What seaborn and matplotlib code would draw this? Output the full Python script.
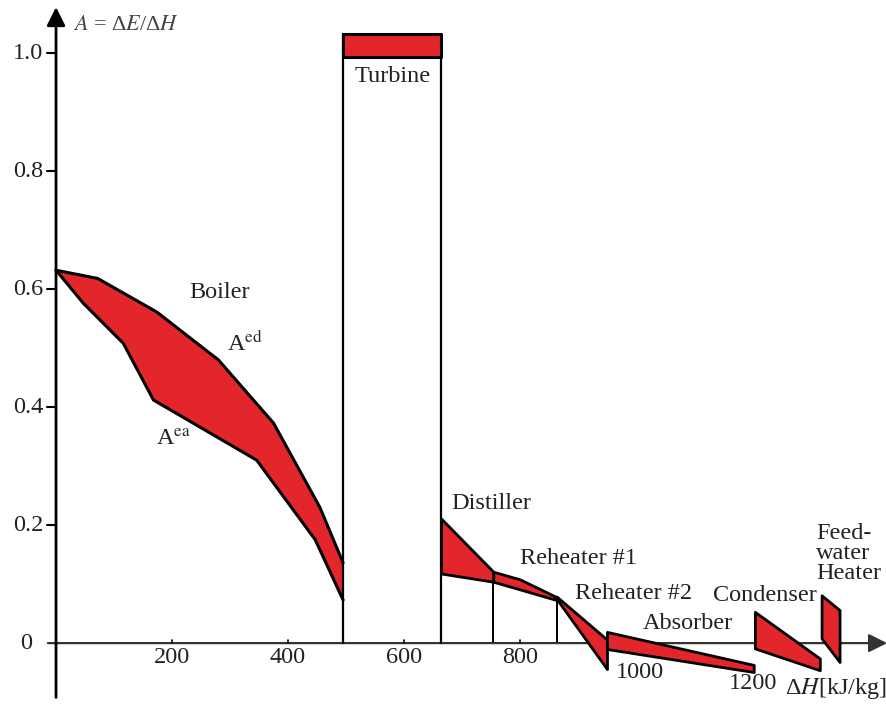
import matplotlib
matplotlib.use("Agg")
import matplotlib.pyplot as plt
import seaborn as sns
import numpy as np
import pandas as pd

sns.set_theme(style="white")
plt.rcParams['font.family'] = ['Liberation Serif', 'DejaVu Serif']
plt.rcParams['mathtext.fontset'] = 'stix'

# ---------------- data ----------------
boiler_x_ed = [0, 72, 174, 280, 375, 455, 495]
boiler_ed = [0.632, 0.618, 0.561, 0.480, 0.373, 0.230, 0.136]
boiler_x_ea = [0, 47, 116, 168, 346, 447, 495]
boiler_ea = [0.632, 0.576, 0.508, 0.412, 0.310, 0.175, 0.073]

turbine_x = [495, 664]
turbine_lower = [0.993, 0.993]
turbine_upper = [1.032, 1.032]

distiller_x = [664, 754]
distiller_upper = [0.211, 0.121]
distiller_lower = [0.118, 0.104]

reheater1_x = [754, 800, 863]
reheater1_upper = [0.121, 0.108, 0.078]
reheater1_lower = [0.104, 0.091, 0.073]

reheater2_x = [863, 950]
reheater2_upper = [0.079, 0.006]
reheater2_lower = [0.075, -0.044]

absorber_x = [950, 1203]
absorber_upper = [0.019, -0.037]
absorber_lower = [-0.010, -0.049]

condenser_x = [1205, 1317]
condenser_upper = [0.053, -0.026]
condenser_lower = [-0.009, -0.046]

feedwater_x = [1320, 1351]
feedwater_upper = [0.081, 0.056]
feedwater_lower = [0.008, -0.032]

separator_x = [754, 863]
separator_top = [0.104, 0.073]

y_ticks = [0.2, 0.4, 0.6, 0.8, 1.0]
y_tick_labels = ["0.2", "0.4", "0.6", "0.8", "1.0"]
x_ticks = [200, 400, 600, 800]
x_tick_labels = ["200", "400", "600", "800"]

RED = '#e2262b'
FS = 17.5

fig = plt.figure(figsize=(8.87, 7.08), dpi=100)
ax = fig.add_axes([0, 0, 1, 1])
ax.set_xlim(-96.6, 1432.8)
ax.set_ylim(-0.110, 1.090)
ax.axis('off')

# Boiler band
bx = np.array(boiler_x_ea)
ed_interp = np.interp(bx, boiler_x_ed, boiler_ed)
xs = sorted(set(boiler_x_ed) | set(boiler_x_ea))
up = np.interp(xs, boiler_x_ed, boiler_ed)
lo = np.interp(xs, boiler_x_ea, boiler_ea)
ax.fill_between(xs, lo, up, color=RED, lw=0, zorder=2)
df_ed = pd.DataFrame({'x': boiler_x_ed, 'y': boiler_ed})
df_ea = pd.DataFrame({'x': boiler_x_ea, 'y': boiler_ea})
sns.lineplot(data=df_ed, x='x', y='y', sort=False, color='black', lw=2.2, ax=ax, zorder=3)
sns.lineplot(data=df_ea, x='x', y='y', sort=False, color='black', lw=2.2, ax=ax, zorder=3)

# Turbine box
ax.plot([turbine_x[0], turbine_x[0]], [0, turbine_upper[0]], color='black', lw=1.6, zorder=3)
ax.plot([turbine_x[1], turbine_x[1]], [0, turbine_upper[1]], color='black', lw=1.6, zorder=3)
ax.fill_between(turbine_x, turbine_lower, turbine_upper, facecolor=RED,
                edgecolor='black', lw=2.2, zorder=3)

# Separators
for sx, st in zip(separator_x, separator_top):
    ax.plot([sx, sx], [0, st], color='black', lw=1.4, zorder=1)

# Components
for xx, uu, ll in [(distiller_x, distiller_upper, distiller_lower),
                   (reheater1_x, reheater1_upper, reheater1_lower),
                   (reheater2_x, reheater2_upper, reheater2_lower),
                   (absorber_x, absorber_upper, absorber_lower),
                   (condenser_x, condenser_upper, condenser_lower),
                   (feedwater_x, feedwater_upper, feedwater_lower)]:
    ax.fill_between(xx, ll, uu, facecolor=RED, edgecolor='black', lw=2.0, zorder=3)

# Axes with arrows
ax.annotate('', xy=(0, 1.078), xytext=(0, -0.092),
            arrowprops=dict(arrowstyle='-|>', lw=2, color='black', mutation_scale=28,
                            shrinkA=0, shrinkB=0), zorder=4)
ax.annotate('', xy=(1433, 0), xytext=(-14, 0),
            arrowprops=dict(arrowstyle='-|>', lw=1.6, color='#333333', mutation_scale=28,
                            shrinkA=0, shrinkB=0), zorder=1)

# Y ticks
for yt, lab in zip(y_ticks, y_tick_labels):
    ax.plot([-16, 0], [yt, yt], color='black', lw=1.5)
    ax.text(-22, yt, lab, ha='right', va='center', fontsize=FS, color='#222222')
ax.text(-52, 0, "0", ha='center', va='center', fontsize=FS, color='#222222')

# X ticks
for xt, lab in zip(x_ticks, x_tick_labels):
    ax.plot([xt, xt], [0, 0.006], color='black', lw=1.2)
    ax.text(xt, -0.024, lab, ha='center', va='center', fontsize=FS, color='#222222')
ax.text(1007, -0.049, "1000", ha='center', va='center', fontsize=FS, color='#222222')
ax.text(1202, -0.068, "1200", ha='center', va='center', fontsize=FS, color='#222222')
ax.text(1257, -0.077, r"Δ$H$[kJ/kg]", ha='left', va='center', fontsize=FS, color='#222222')

# Axis title
ax.text(29, 1.047, r"$A$ = Δ$E$/Δ$H$", ha='left', va='center', fontsize=FS - 1.5, color='#444444')

# Labels
ax.text(581, 0.960, "Turbine", ha='center', va='center', fontsize=FS, color='#222222')
ax.text(282, 0.594, "Boiler", ha='center', va='center', fontsize=FS, color='#222222')
ax.text(294, 0.508, r"A$^{\mathrm{ed}}$", ha='left', va='center', fontsize=FS, color='#222222')
ax.text(172, 0.344, r"A$^{\mathrm{ea}}$", ha='left', va='center', fontsize=FS, color='#222222')
ax.text(682, 0.237, "Distiller", ha='left', va='center', fontsize=FS, color='#222222')
ax.text(800, 0.144, "Reheater #1", ha='left', va='center', fontsize=FS, color='#222222')
ax.text(895, 0.084, "Reheater #2", ha='left', va='center', fontsize=FS, color='#222222')
ax.text(1090, 0.033, "Absorber", ha='center', va='center', fontsize=FS, color='#222222')
ax.text(1133, 0.081, "Condenser", ha='left', va='center', fontsize=FS, color='#222222')
ax.text(1311, 0.152, "Feed-\nwater\nHeater", ha='left', va='center', fontsize=FS,
        color='#222222', linespacing=0.95)

fig.savefig("out.png", dpi=100)
